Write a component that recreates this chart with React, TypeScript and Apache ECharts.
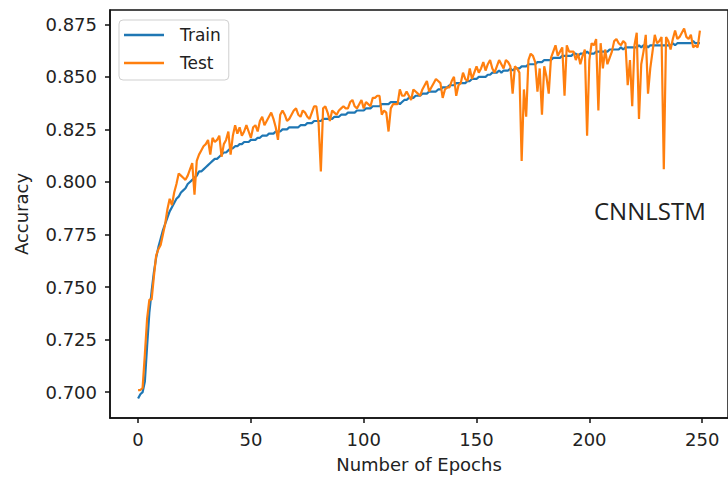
import React, { useEffect, useRef } from "react";
import * as echarts from "echarts";

const trainAcc: number[] = [
  0.697, 0.699, 0.700, 0.705, 0.722, 0.738, 0.748, 0.757, 0.764, 0.769,
  0.773, 0.777, 0.780, 0.783, 0.786, 0.788, 0.790, 0.792, 0.793, 0.795,
  0.796, 0.797, 0.799, 0.800, 0.801, 0.802, 0.803, 0.805, 0.805, 0.806,
  0.807, 0.808, 0.809, 0.810, 0.811, 0.811, 0.812, 0.813, 0.814, 0.814,
  0.815, 0.816, 0.816, 0.817, 0.817, 0.818, 0.818, 0.819, 0.819, 0.819,
  0.820, 0.820, 0.820, 0.821, 0.821, 0.822, 0.822, 0.822, 0.823, 0.823,
  0.823, 0.824, 0.824, 0.824, 0.825, 0.825, 0.825, 0.826, 0.826, 0.826,
  0.826, 0.826, 0.827, 0.827, 0.827, 0.828, 0.828, 0.828, 0.829, 0.829,
  0.829, 0.829, 0.830, 0.830, 0.830, 0.830, 0.830, 0.831, 0.831, 0.831,
  0.832, 0.832, 0.832, 0.833, 0.833, 0.833, 0.833, 0.834, 0.834, 0.834,
  0.834, 0.835, 0.835, 0.835, 0.836, 0.836, 0.836, 0.836, 0.837, 0.837,
  0.837, 0.837, 0.838, 0.838, 0.838, 0.838, 0.837, 0.838, 0.839, 0.839,
  0.840, 0.840, 0.840, 0.841, 0.841, 0.841, 0.842, 0.842, 0.842, 0.843,
  0.843, 0.843, 0.843, 0.844, 0.844, 0.845, 0.845, 0.845, 0.846, 0.846,
  0.846, 0.847, 0.847, 0.847, 0.847, 0.847, 0.848, 0.848, 0.849, 0.849,
  0.849, 0.850, 0.850, 0.850, 0.850, 0.851, 0.851, 0.852, 0.852, 0.852,
  0.853, 0.852, 0.853, 0.853, 0.853, 0.854, 0.853, 0.854, 0.854, 0.854,
  0.855, 0.855, 0.855, 0.856, 0.856, 0.856, 0.856, 0.857, 0.857, 0.857,
  0.858, 0.858, 0.858, 0.858, 0.859, 0.859, 0.859, 0.859, 0.860, 0.860,
  0.860, 0.860, 0.860, 0.861, 0.861, 0.860, 0.861, 0.861, 0.861, 0.862,
  0.861, 0.861, 0.861, 0.862, 0.862, 0.862, 0.862, 0.862, 0.862, 0.863,
  0.863, 0.863, 0.863, 0.863, 0.864, 0.863, 0.864, 0.864, 0.864, 0.864,
  0.864, 0.864, 0.865, 0.864, 0.865, 0.865, 0.864, 0.865, 0.865, 0.865,
  0.865, 0.865, 0.865, 0.865, 0.865, 0.865, 0.865, 0.866, 0.865, 0.866,
  0.866, 0.866, 0.866, 0.866, 0.866, 0.866, 0.867, 0.866, 0.866, 0.866,
];

const testAcc: number[] = [
  0.701, 0.701, 0.702, 0.718, 0.735, 0.744, 0.744, 0.755, 0.765, 0.768,
  0.770, 0.775, 0.780, 0.787, 0.792, 0.789, 0.795, 0.799, 0.804, 0.803,
  0.802, 0.801, 0.803, 0.806, 0.809, 0.794, 0.810, 0.813, 0.815, 0.817,
  0.818, 0.820, 0.813, 0.821, 0.819, 0.820, 0.822, 0.812, 0.818, 0.820,
  0.824, 0.813, 0.822, 0.827, 0.823, 0.826, 0.822, 0.824, 0.827, 0.824,
  0.821, 0.826, 0.827, 0.824, 0.829, 0.831, 0.827, 0.829, 0.831, 0.833,
  0.830, 0.826, 0.820, 0.832, 0.834, 0.832, 0.829, 0.830, 0.832, 0.834,
  0.835, 0.832, 0.831, 0.834, 0.833, 0.831, 0.830, 0.833, 0.836, 0.836,
  0.828, 0.805, 0.835, 0.836, 0.833, 0.829, 0.834, 0.833, 0.832, 0.834,
  0.835, 0.836, 0.835, 0.835, 0.838, 0.839, 0.836, 0.835, 0.837, 0.839,
  0.835, 0.838, 0.837, 0.836, 0.840, 0.840, 0.841, 0.841, 0.832, 0.834,
  0.833, 0.824, 0.835, 0.837, 0.837, 0.837, 0.844, 0.841, 0.841, 0.843,
  0.841, 0.839, 0.844, 0.843, 0.842, 0.841, 0.844, 0.846, 0.848, 0.843,
  0.845, 0.847, 0.849, 0.848, 0.847, 0.840, 0.844, 0.845, 0.845, 0.848,
  0.850, 0.841, 0.846, 0.847, 0.852, 0.849, 0.848, 0.854, 0.849, 0.852,
  0.855, 0.852, 0.854, 0.857, 0.853, 0.856, 0.858, 0.854, 0.852, 0.855,
  0.858, 0.856, 0.854, 0.858, 0.857, 0.855, 0.842, 0.855, 0.854, 0.852,
  0.810, 0.844, 0.831, 0.858, 0.861, 0.860, 0.857, 0.843, 0.854, 0.832,
  0.855, 0.850, 0.842, 0.859, 0.862, 0.865, 0.860, 0.862, 0.864, 0.841,
  0.865, 0.862, 0.862, 0.862, 0.858, 0.861, 0.856, 0.860, 0.863, 0.822,
  0.858, 0.866, 0.865, 0.868, 0.834, 0.866, 0.854, 0.863, 0.856, 0.859,
  0.862, 0.867, 0.868, 0.866, 0.865, 0.867, 0.866, 0.846, 0.858, 0.836,
  0.865, 0.871, 0.830, 0.856, 0.862, 0.870, 0.842, 0.854, 0.862, 0.870,
  0.866, 0.867, 0.869, 0.806, 0.869, 0.867, 0.863, 0.868, 0.872, 0.868,
  0.869, 0.871, 0.873, 0.869, 0.868, 0.870, 0.864, 0.865, 0.864, 0.872,
];

const xTicks = [0, 50, 100, 150, 200, 250];
const yTicks = [0.7, 0.725, 0.75, 0.775, 0.8, 0.825, 0.85, 0.875];
const seriesNames = ["Train", "Test"];
const annotation = "CNNLSTM";

const FONT = "DejaVu Sans";
const TEXT = "#222";
const FS = 18;

export default function App() {
  const ref = useRef<HTMLDivElement>(null);
  useEffect(() => {
    if (!ref.current) return;
    const chart = echarts.init(ref.current, null, { renderer: "svg" });
    const trainData = trainAcc.map((v, i) => [i, v]);
    const testData = testAcc.map((v, i) => [i, v]);
    chart.setOption({
      animation: false,
      backgroundColor: "#fff",
      textStyle: { fontFamily: FONT },
      grid: {
        left: 110,
        top: 10,
        width: 625,
        height: 408,
        show: true,
        borderColor: "#111",
        borderWidth: 1.5,
        backgroundColor: "transparent",
      },
      legend: {
        left: 119,
        top: 20,
        orient: "vertical",
        data: seriesNames.map((n) => ({ name: n, icon: "rect" })),
        itemWidth: 40,
        itemHeight: 2.5,
        itemGap: 10,
        padding: [6, 8, 8, 5],
        backgroundColor: "#fff",
        borderColor: "#cfcfcf",
        borderWidth: 1,
        borderRadius: 4,
        textStyle: {
          fontFamily: FONT,
          fontSize: 17,
          color: TEXT,
          lineHeight: 18,
          padding: [0, 0, 0, 11],
        },
      },
      xAxis: {
        type: "value",
        min: -12.45,
        max: 261.45,
        name: "Number of Epochs",
        nameLocation: "middle",
        nameGap: 37,
        nameTextStyle: { fontFamily: FONT, fontSize: FS, color: TEXT },
        axisLine: { show: true, onZero: false, lineStyle: { color: "#111", width: 1.5 } },
        axisTick: {
          show: true,
          length: 5,
          customValues: xTicks,
          lineStyle: { color: "#111", width: 1.5 },
        },
        axisLabel: {
          customValues: xTicks,
          margin: 12,
          fontFamily: FONT,
          fontSize: FS,
          color: TEXT,
          formatter: (v: number) => String(v),
        },
        splitLine: { show: false },
      },
      yAxis: {
        type: "value",
        min: 0.6877,
        max: 0.8818,
        name: "Accuracy",
        nameLocation: "middle",
        nameGap: 80,
        nameTextStyle: { fontFamily: FONT, fontSize: FS, color: TEXT },
        axisLine: { show: true, onZero: false, lineStyle: { color: "#111", width: 1.5 } },
        axisTick: {
          show: true,
          length: 5,
          customValues: yTicks,
          lineStyle: { color: "#111", width: 1.5 },
        },
        axisLabel: {
          customValues: yTicks,
          margin: 13,
          fontFamily: FONT,
          fontSize: FS,
          color: TEXT,
          formatter: (v: number) => v.toFixed(3),
        },
        splitLine: { show: false },
      },
      series: [
        {
          name: seriesNames[0],
          type: "line",
          data: trainData,
          symbol: "none",
          lineStyle: { color: "#1f77b4", width: 2.2 },
          itemStyle: { color: "#1f77b4" },
        },
        {
          name: seriesNames[1],
          type: "line",
          data: testData,
          symbol: "none",
          lineStyle: { color: "#ff7f0e", width: 2.2 },
          itemStyle: { color: "#ff7f0e" },
        },
      ],
      graphic: [
        {
          type: "text",
          left: 594,
          top: 198,
          style: {
            text: annotation,
            fontFamily: "Open Sans",
            fontSize: 24,
            fill: "#222",
          },
        },
      ],
    });
    return () => chart.dispose();
  }, []);
  return (
    <div
      ref={ref}
      style={{ position: "fixed", left: 0, top: 0, width: 728, height: 482 }}
    />
  );
}
